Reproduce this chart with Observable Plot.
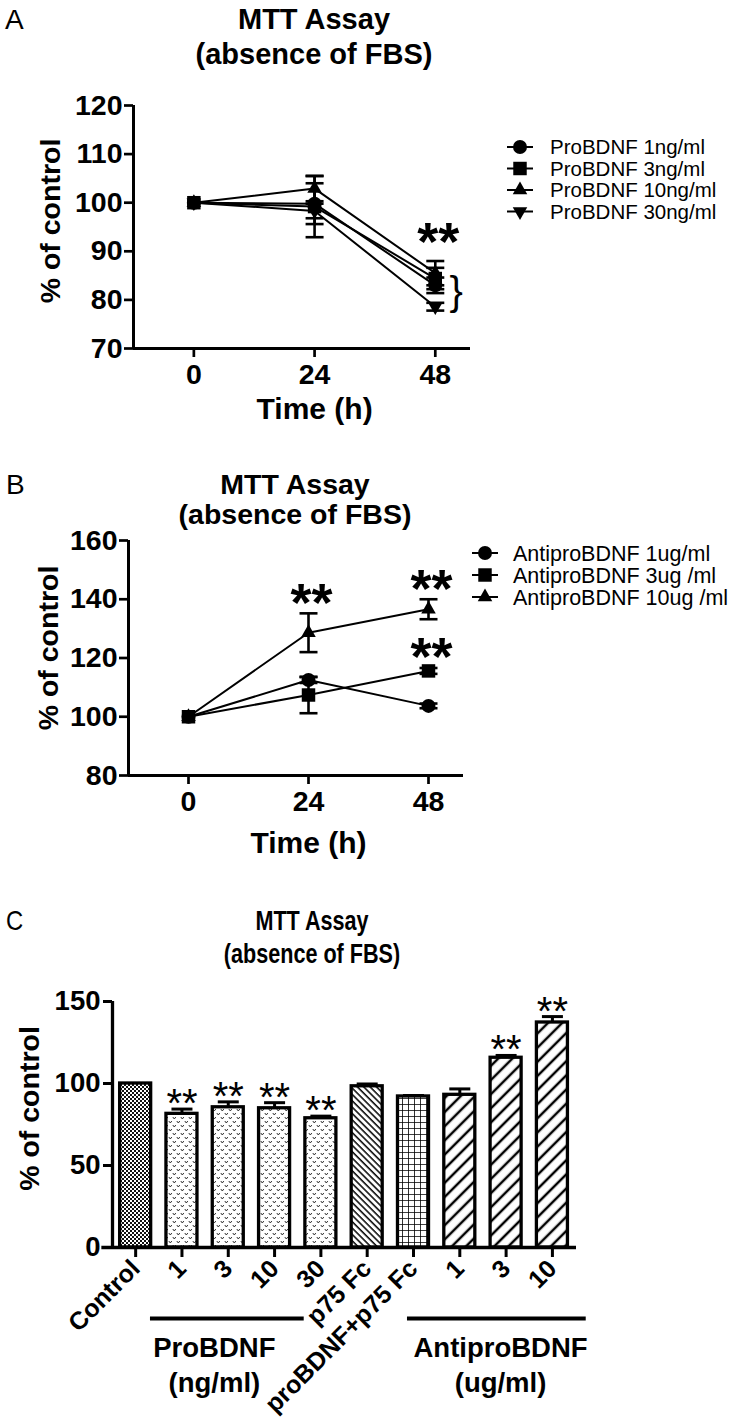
<!DOCTYPE html>
<html><head><meta charset="utf-8">
<script src="https://cdn.jsdelivr.net/npm/d3@7"></script>
<script src="https://cdn.jsdelivr.net/npm/@observablehq/plot@0.6"></script>
<style>
html,body{margin:0;padding:0;background:#fff;}
#page{position:relative;width:738px;height:1421px;overflow:hidden;background:#fff;}
</style>
</head><body><div id="page"></div>
<script>
// ---------------- DATA ----------------
const titleLines = ["MTT Assay", "(absence of FBS)"];
const panelLetters = ["A", "B", "C"];
const yLabel = "% of control";
const xLabel = "Time (h)";

// Panel A
const timesA = [0, 24, 48];
const seriesA = ["ProBDNF 1ng/ml", "ProBDNF 3ng/ml", "ProBDNF 10ng/ml", "ProBDNF 30ng/ml"];
const meanA = [[100, 99.8, 83.0], [100, 99.2, 84.4], [100, 102.9, 85.5], [100, 98.3, 78.6]];
const errA  = [[0, 4.2, 1.6], [0, 6.3, 2.2], [0, 2.6, 2.5], [0, 1.5, 0.8]];
const yTicksA = [70, 80, 90, 100, 110, 120];
const sigA = [{time: 48, label: "**"}];
const braceA = [{time: 48, label: "}"}];

// Panel B
const timesB = [0, 24, 48];
const seriesB = ["AntiproBDNF 1ug/ml", "AntiproBDNF 3ug /ml", "AntiproBDNF 10ug /ml"];
const meanB = [[100, 112.5, 103.7], [100, 107.4, 115.6], [100, 128.6, 136.6]];
const errB  = [[0, 1.0, 0.8], [0, 6.2, 1.0], [0, 6.6, 3.4]];
const yTicksB = [80, 100, 120, 140, 160];
const sigB = [{time: 24, series: 2, label: "**"}, {time: 48, series: 2, label: "**"}, {time: 48, series: 1, label: "**"}];

// Panel C
const barCats   = ["Control", "1", "3", "10", "30", "p75 Fc", "proBDNF+p75 Fc", "1", "3", "10"];
const barValues = [100, 81.5, 85.5, 84.9, 78.8, 98.3, 92.1, 93.1, 115.7, 137.2];
const barErrors = [0, 2.9, 3.3, 3.4, 1.3, 1.4, 0.6, 3.6, 1.4, 3.6];
const barGroups = ["control", "pro", "pro", "pro", "pro", "p75", "combo", "anti", "anti", "anti"];
const barSig    = ["", "**", "**", "**", "**", "", "", "", "**", "**"];
const yTicksC = [0, 50, 100, 150];
const groupLabels = [
  {label: "ProBDNF", unit: "(ng/ml)", from: 0.32, to: 3.64, center: 1.70},
  {label: "AntiproBDNF", unit: "(ug/ml)", from: 5.87, to: 9.73, center: 7.88}
];

// ---------------- STYLE ----------------
const FONT = "'Liberation Sans', Arial, Helvetica, sans-serif";
const page = document.getElementById("page");
const capSymbol = {draw(ctx, size) { const w = Math.sqrt(size / Math.PI); ctx.moveTo(-w, 0); ctx.lineTo(w, 0); }};
const markerStyles = [
  {symbol: "circle", d3: d3.symbolCircle, r: 7, rotate: 0},
  {symbol: "square", d3: d3.symbolSquare, r: 7.6, rotate: 0},
  {symbol: "triangle", d3: d3.symbolTriangle, r: 5.4, rotate: 0},
  {symbol: "triangle", d3: d3.symbolTriangle, r: 5.4, rotate: 180}
];

function place(node, top) {
  node.style.position = "absolute";
  node.style.left = "0px";
  node.style.top = top + "px";
  page.appendChild(node);
}

function lineChart(cfg) {
  const rows = [];
  cfg.series.forEach((s, si) => cfg.times.forEach((t, ti) =>
    rows.push({series: s, si, time: t, mean: cfg.means[si][ti], err: cfg.errs[si][ti]})));
  const withErr = rows.filter(d => d.err > 0);
  const caps = withErr.flatMap(d => [{time: d.time, y: d.mean + d.err}, {time: d.time, y: d.mean - d.err}]);
  const sigRows = cfg.sig.map(s => {
    const pts = rows.filter(d => d.time === s.time && (s.series == null || d.si === s.series));
    return {...s, y: d3.max(pts, d => d.mean + d.err)};
  });
  const braceRows = (cfg.brace || []).map(b => {
    const pts = rows.filter(d => d.time === b.time);
    return {...b, y: (d3.min(pts, d => d.mean) + d3.max(pts, d => d.mean)) / 2};
  });
  const fs = 54;
  return Plot.plot({
    width: 738, height: cfg.height,
    marginTop: cfg.mt, marginBottom: cfg.mb, marginLeft: cfg.ml, marginRight: cfg.mr,
    x: {domain: cfg.xDomain},
    y: {domain: cfg.yDomain},
    style: {fontFamily: FONT, background: "transparent", overflow: "visible", color: "black"},
    marks: [
      Plot.axisY({ticks: cfg.yTicks, tickSize: 9, tickPadding: 2, fontSize: 28.5, fontWeight: "bold", strokeWidth: 2.7, label: null}),
      Plot.axisX({ticks: cfg.times, tickSize: 9, tickPadding: 6, fontSize: 28.5, fontWeight: "bold", strokeWidth: 2.7, label: null}),
      Plot.ruleX([cfg.xDomain[0]], {stroke: "black", strokeWidth: 3}),
      Plot.ruleY([cfg.yDomain[0]], {stroke: "black", strokeWidth: 3}),
      Plot.line(rows, {x: "time", y: "mean", z: "series", stroke: "black", strokeWidth: 2}),
      Plot.ruleX(withErr, {x: "time", y1: d => d.mean - d.err, y2: d => d.mean + d.err, stroke: "black", strokeWidth: 2.6}),
      Plot.dot(caps, {x: "time", y: "y", symbol: capSymbol, r: 9, stroke: "black", strokeWidth: 2.6, fill: "none"}),
      ...cfg.series.map((s, si) => Plot.dot(rows.filter(d => d.si === si), {
        x: "time", y: "mean", symbol: markerStyles[si].symbol, r: markerStyles[si].r,
        rotate: markerStyles[si].rotate, fill: "black"})),
      Plot.text(sigRows, {x: "time", y: "y", text: "label", fontSize: fs, fontWeight: "bold", dx: 3, dy: -cfg.sigGap + 0.253 * fs}),
      Plot.text(braceRows, {x: "time", y: "y", text: "label", fontSize: 40, dx: 21, dy: 2}),
      Plot.text([yLabel], {text: d => d, frameAnchor: "left", textAnchor: "middle", lineAnchor: "middle",
        dx: cfg.ylabDx, dy: cfg.ylabDy, rotate: -90, fontSize: 28.5, fontWeight: "bold"}),
      Plot.text([xLabel], {text: d => d, x: d3.mean(cfg.times), frameAnchor: "bottom", textAnchor: "middle", lineAnchor: "middle",
        dy: cfg.xlabDy, fontSize: 30, fontWeight: "bold"})
    ]
  });
}

// Panel A
place(lineChart({
  times: timesA, series: seriesA, means: meanA, errs: errA, yTicks: yTicksA, sig: sigA, brace: braceA,
  height: 430, mt: 105, mb: 82, ml: 133, mr: 268,
  xDomain: [-12, 55], yDomain: [70, 120], sigGap: 32,
  ylabDx: -83, ylabDy: -6, xlabDy: 61
}), 0);

// Panel B
place(lineChart({
  times: timesB, series: seriesB, means: meanB, errs: errB, yTicks: yTicksB, sig: sigB,
  height: 420, mt: 100, mb: 85, ml: 128, mr: 275,
  xDomain: [-12, 55], yDomain: [80, 160], sigGap: 23.5,
  ylabDx: -80, ylabDy: -10, xlabDy: 68
}), 440);

// Panel C
const barData = barCats.map((c, i) => ({i, cat: c, value: barValues[i], err: barErrors[i], group: barGroups[i], sig: barSig[i]}));
const patternFill = {control: "url(#pat-control)", pro: "url(#pat-pro)", p75: "url(#pat-p75)", combo: "url(#pat-combo)", anti: "url(#pat-anti)"};
const xDomainC = [-0.5, 9.52];
const fsC = 40;
const chartC = Plot.plot({
  width: 738, height: 461,
  marginTop: 41, marginBottom: 174, marginLeft: 112, marginRight: 162,
  x: {domain: xDomainC},
  y: {domain: [0, 150]},
  style: {fontFamily: FONT, background: "transparent", overflow: "visible", color: "black"},
  marks: [
    ...Object.keys(patternFill).map(g => Plot.rect(barData.filter(d => d.group === g), {
      x1: d => d.i - 0.335, x2: d => d.i + 0.335, y1: 0, y2: "value",
      fill: patternFill[g], stroke: "black", strokeWidth: 3.3})),
    Plot.ruleX(barData.filter(d => d.err > 0), {x: "i", y1: "value", y2: d => d.value + d.err, stroke: "black", strokeWidth: 3}),
    Plot.dot(barData.filter(d => d.err > 0), {x: "i", y: d => d.value + d.err, symbol: capSymbol, r: 10.5, stroke: "black", strokeWidth: 3, fill: "none"}),
    Plot.text(barData.filter(d => d.sig), {x: "i", y: d => d.value + d.err, text: "sig", fontSize: fsC, dy: -15 + 0.253 * fsC}),
    Plot.axisY({ticks: yTicksC, tickSize: 9, tickPadding: 3, fontSize: 27.5, fontWeight: "bold", strokeWidth: 3, label: null}),
    Plot.axisX({ticks: barData.map(d => d.i), tickFormat: i => barCats[i], tickRotate: -45, tickSize: 10, tickPadding: 7,
      fontSize: 25, fontWeight: "bold", strokeWidth: 3, label: null}),
    Plot.ruleX([xDomainC[0]], {stroke: "black", strokeWidth: 3.3}),
    Plot.ruleY([0], {x1: -0.73, x2: xDomainC[1], stroke: "black", strokeWidth: 3.3}),
    Plot.ruleY(groupLabels, {y: d => 0, x1: "from", x2: "to", dy: 71, stroke: "black", strokeWidth: 4}),
    Plot.text(groupLabels, {x: "center", y: d => 0, text: "label", dy: 101, fontSize: 27.5, fontWeight: "bold"}),
    Plot.text(groupLabels, {x: "center", y: d => 0, text: "unit", dy: 136, fontSize: 27.5, fontWeight: "bold"}),
    Plot.text([yLabel], {text: d => d, frameAnchor: "left", textAnchor: "middle", lineAnchor: "middle",
      dx: -83, dy: -16, rotate: -90, fontSize: 28.5, fontWeight: "bold"})
  ]
});
d3.select(chartC).insert("defs", ":first-child").html(`
  <pattern id="pat-control" patternUnits="userSpaceOnUse" width="4" height="4">
    <rect width="4" height="4" fill="#fff"/><rect width="2" height="2" fill="#111"/><rect x="2" y="2" width="2" height="2" fill="#111"/>
  </pattern>
  <pattern id="pat-pro" patternUnits="userSpaceOnUse" width="8" height="8">
    <rect width="8" height="8" fill="#fff"/>
    <path d="M0.8,1 L2.3,3 L3.8,1 M4.8,5 L6.3,7 L7.8,5" fill="none" stroke="#333" stroke-width="1"/>
  </pattern>
  <pattern id="pat-p75" patternUnits="userSpaceOnUse" width="4.5" height="4.5" patternTransform="rotate(-45)">
    <rect width="4.5" height="4.5" fill="#fff"/><line x1="1" y1="0" x2="1" y2="4.5" stroke="#000" stroke-width="1.5"/>
  </pattern>
  <pattern id="pat-combo" patternUnits="userSpaceOnUse" width="6" height="6">
    <rect width="6" height="6" fill="#fff"/><path d="M0,0 H6 M0,0 V6" stroke="#000" stroke-width="1.6"/>
  </pattern>
  <pattern id="pat-anti" patternUnits="userSpaceOnUse" width="10" height="10" patternTransform="rotate(45)">
    <rect width="10" height="10" fill="#fff"/><line x1="2" y1="0" x2="2" y2="10" stroke="#000" stroke-width="2.5"/>
  </pattern>`);
place(chartC, 960);

// ---------------- Overlay: titles, panel letters, legends ----------------
const ov = d3.create("svg").attr("width", 738).attr("height", 1421)
  .style("position", "absolute").style("left", "0px").style("top", "0px")
  .style("font-family", FONT).style("pointer-events", "none");
function txt(x, y, s, size, weight, anchor, sx) {
  ov.append("text").attr("transform", `translate(${x},${y}) scale(${sx || 1},1)`)
    .attr("font-size", size).attr("font-weight", weight).attr("text-anchor", anchor).attr("fill", "black").text(s);
}
const panels = [
  {letter: panelLetters[0], lx: 5, cx: 314, b1: 29, b2: 64, fs: 29, sx: 1},
  {letter: panelLetters[1], lx: 6, cx: 295, b1: 494, b2: 524, fs: 28.5, sx: 1},
  {letter: panelLetters[2], lx: 6, cx: 312, b1: 930, b2: 963, fs: 27, sx: 0.8}
];
panels.forEach(p => {
  txt(p.lx, p.b1, p.letter, 28, "normal", "start", p.sx === 1 ? 1 : 0.85);
  txt(p.cx, p.b1, titleLines[0], p.fs, "bold", "middle", p.sx);
  txt(p.cx, p.b2, titleLines[1], p.fs, "bold", "middle", p.sx);
});
function legend(items, mx, y0, step, tx, fsz) {
  items.forEach((name, k) => {
    const y = y0 + k * step, st = markerStyles[k];
    ov.append("line").attr("x1", mx - 13).attr("x2", mx + 13).attr("y1", y).attr("y2", y).attr("stroke", "black").attr("stroke-width", 2);
    ov.append("path").attr("d", d3.symbol(st.d3, Math.PI * st.r * st.r)())
      .attr("transform", `translate(${mx},${y}) rotate(${st.rotate})`).attr("fill", "black");
    ov.append("text").attr("x", tx).attr("y", y).attr("dy", "0.35em").attr("font-size", fsz).attr("fill", "black").text(name);
  });
}
legend(seriesA, 520, 147, 21.5, 550, 20.5);
legend(seriesB, 485, 553, 22, 513, 21.5);
page.appendChild(ov.node());
</script>
</body></html>
